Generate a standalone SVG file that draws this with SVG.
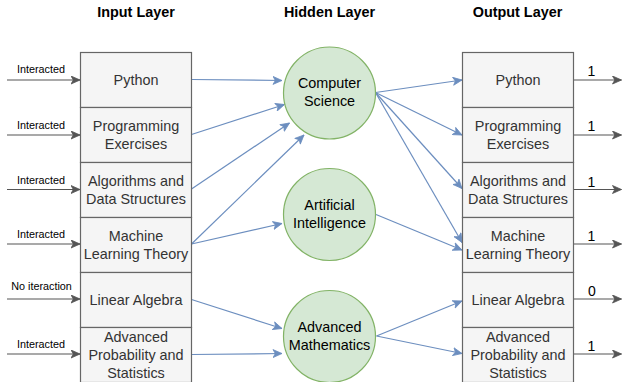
<svg xmlns="http://www.w3.org/2000/svg" width="622" height="382" viewBox="0 0 622 382">
<style>
  .title { font-family: "Liberation Sans", Arial, sans-serif; font-size: 14.4px; font-weight: bold; fill: #000; text-anchor: middle; }
  .box { fill: #f5f5f5; stroke: #666666; stroke-width: 1.2; }
  .btxt { font-family: "Liberation Sans", Arial, sans-serif; font-size: 14.4px; fill: #333333; text-anchor: middle; }
  .circ { fill: #d5e8d4; stroke: #82b366; stroke-width: 1.2; }
  .ctxt { font-family: "Liberation Sans", Arial, sans-serif; font-size: 14.4px; fill: #000; text-anchor: middle; }
  .blue { stroke: #6c8ebf; stroke-width: 1.2; fill: none; marker-end: url(#ab); }
  .grey { stroke: #555555; stroke-width: 1.2; fill: none; marker-end: url(#ag); }
  .lbl { font-family: "Liberation Sans", Arial, sans-serif; font-size: 10.8px; fill: #000; text-anchor: middle; }
  .olbl { font-family: "Liberation Sans", Arial, sans-serif; font-size: 14px; fill: #000; text-anchor: middle; }
</style>
<defs>
  <marker id="ab" markerUnits="userSpaceOnUse" markerWidth="11" markerHeight="9" refX="9.5" refY="4.5" orient="auto">
    <path d="M0.5,0.5 L9.5,4.5 L0.5,8.5 L2.8,4.5 Z" fill="#6c8ebf" stroke="#6c8ebf" stroke-width="0.8"/>
  </marker>
  <marker id="ag" markerUnits="userSpaceOnUse" markerWidth="11" markerHeight="9" refX="9.5" refY="4.5" orient="auto">
    <path d="M0.5,0.5 L9.5,4.5 L0.5,8.5 L2.8,4.5 Z" fill="#555555" stroke="#555555" stroke-width="0.8"/>
  </marker>
</defs>

<g id="titles">
  <text class="title" x="136" y="17">Input Layer</text>
  <text class="title" x="329.5" y="17">Hidden Layer</text>
  <text class="title" x="517.5" y="17">Output Layer</text>
</g>

<g id="connectors">
  <line class="grey" x1="7" y1="80" x2="80" y2="80"/>
  <line class="grey" x1="7" y1="135" x2="80" y2="135"/>
  <line class="grey" x1="7" y1="189.5" x2="80" y2="189.5"/>
  <line class="grey" x1="7" y1="244" x2="80" y2="244"/>
  <line class="grey" x1="7" y1="299" x2="80" y2="299"/>
  <line class="grey" x1="7" y1="354" x2="80" y2="354"/>
  <line class="grey" x1="573.5" y1="80" x2="621.5" y2="80"/>
  <line class="grey" x1="573.5" y1="135" x2="621.5" y2="135"/>
  <line class="grey" x1="573.5" y1="189.5" x2="621.5" y2="189.5"/>
  <line class="grey" x1="573.5" y1="244" x2="621.5" y2="244"/>
  <line class="grey" x1="573.5" y1="299" x2="621.5" y2="299"/>
  <line class="grey" x1="573.5" y1="354" x2="621.5" y2="354"/>
  <line class="blue" x1="191.5" y1="79.5" x2="282" y2="80.5"/>
  <line class="blue" x1="191.5" y1="134.5" x2="284.5" y2="104.5"/>
  <line class="blue" x1="191.5" y1="189" x2="289.5" y2="123"/>
  <line class="blue" x1="191.5" y1="244" x2="304" y2="135"/>
  <line class="blue" x1="191.5" y1="244" x2="282" y2="223.5"/>
  <line class="blue" x1="191.5" y1="299.5" x2="282" y2="328.5"/>
  <line class="blue" x1="191.5" y1="354.5" x2="282" y2="353.5"/>
  <line class="blue" x1="375.5" y1="92.5" x2="462" y2="80"/>
  <line class="blue" x1="375.5" y1="92.5" x2="462" y2="135"/>
  <line class="blue" x1="375.5" y1="92.5" x2="462" y2="188.5"/>
  <line class="blue" x1="375.5" y1="92.5" x2="462" y2="242.5"/>
  <line class="blue" x1="376" y1="214.5" x2="462" y2="250"/>
  <line class="blue" x1="376.5" y1="336" x2="462" y2="301"/>
  <line class="blue" x1="376.5" y1="336" x2="462" y2="353.5"/>
</g>

<g id="edge-labels">
  <text class="lbl" x="41" y="73">Interacted</text>
  <text class="lbl" x="41" y="128.5">Interacted</text>
  <text class="lbl" x="41" y="183.5">Interacted</text>
  <text class="lbl" x="41" y="237.5">Interacted</text>
  <text class="lbl" x="41.5" y="290">No iteraction</text>
  <text class="lbl" x="41" y="347.5">Interacted</text>
  <text class="olbl" x="591.5" y="76">1</text>
  <text class="olbl" x="591.5" y="131">1</text>
  <text class="olbl" x="591.5" y="186.5">1</text>
  <text class="olbl" x="591.5" y="240.5">1</text>
  <text class="olbl" x="592" y="296">0</text>
  <text class="olbl" x="591.5" y="351">1</text>
</g>

<g id="in-python"><rect class="box" x="80.5" y="52.5" width="111" height="55"/><text class="btxt" x="136" y="84.8">Python</text></g>
<g id="in-programming"><rect class="box" x="80.5" y="107.5" width="111" height="55"/><text class="btxt" x="136" y="130.8">Programming</text><text class="btxt" x="136" y="148.8">Exercises</text></g>
<g id="in-algorithms"><rect class="box" x="80.5" y="162.5" width="111" height="55"/><text class="btxt" x="136" y="185.8">Algorithms and</text><text class="btxt" x="136" y="203.8">Data Structures</text></g>
<g id="in-ml"><rect class="box" x="80.5" y="217.5" width="111" height="55"/><text class="btxt" x="136" y="240.8">Machine</text><text class="btxt" x="136" y="258.8">Learning Theory</text></g>
<g id="in-linear"><rect class="box" x="80.5" y="272.5" width="111" height="55"/><text class="btxt" x="136" y="304.8">Linear Algebra</text></g>
<g id="in-prob"><rect class="box" x="80.5" y="327.5" width="111" height="55"/><text class="btxt" x="136" y="341.8">Advanced</text><text class="btxt" x="136" y="359.8">Probability and</text><text class="btxt" x="136" y="377.8">Statistics</text></g>

<g id="hid-cs"><circle class="circ" cx="329.5" cy="93" r="46"/><text class="ctxt" x="329.5" y="88.3">Computer</text><text class="ctxt" x="329.5" y="106.3">Science</text></g>
<g id="hid-ai"><circle class="circ" cx="329.5" cy="214.5" r="46"/><text class="ctxt" x="329.5" y="210.3">Artificial</text><text class="ctxt" x="329.5" y="228.3">Intelligence</text></g>
<g id="hid-am"><circle class="circ" cx="329.5" cy="336.5" r="46"/><text class="ctxt" x="329.5" y="332.3">Advanced</text><text class="ctxt" x="329.5" y="350.3">Mathematics</text></g>

<g id="out-python"><rect class="box" x="462.5" y="52.5" width="111" height="55"/><text class="btxt" x="518" y="84.8">Python</text></g>
<g id="out-programming"><rect class="box" x="462.5" y="107.5" width="111" height="55"/><text class="btxt" x="518" y="130.8">Programming</text><text class="btxt" x="518" y="148.8">Exercises</text></g>
<g id="out-algorithms"><rect class="box" x="462.5" y="162.5" width="111" height="55"/><text class="btxt" x="518" y="185.8">Algorithms and</text><text class="btxt" x="518" y="203.8">Data Structures</text></g>
<g id="out-ml"><rect class="box" x="462.5" y="217.5" width="111" height="55"/><text class="btxt" x="518" y="240.8">Machine</text><text class="btxt" x="518" y="258.8">Learning Theory</text></g>
<g id="out-linear"><rect class="box" x="462.5" y="272.5" width="111" height="55"/><text class="btxt" x="518" y="304.8">Linear Algebra</text></g>
<g id="out-prob"><rect class="box" x="462.5" y="327.5" width="111" height="55"/><text class="btxt" x="518" y="341.8">Advanced</text><text class="btxt" x="518" y="359.8">Probability and</text><text class="btxt" x="518" y="377.8">Statistics</text></g>
</svg>
